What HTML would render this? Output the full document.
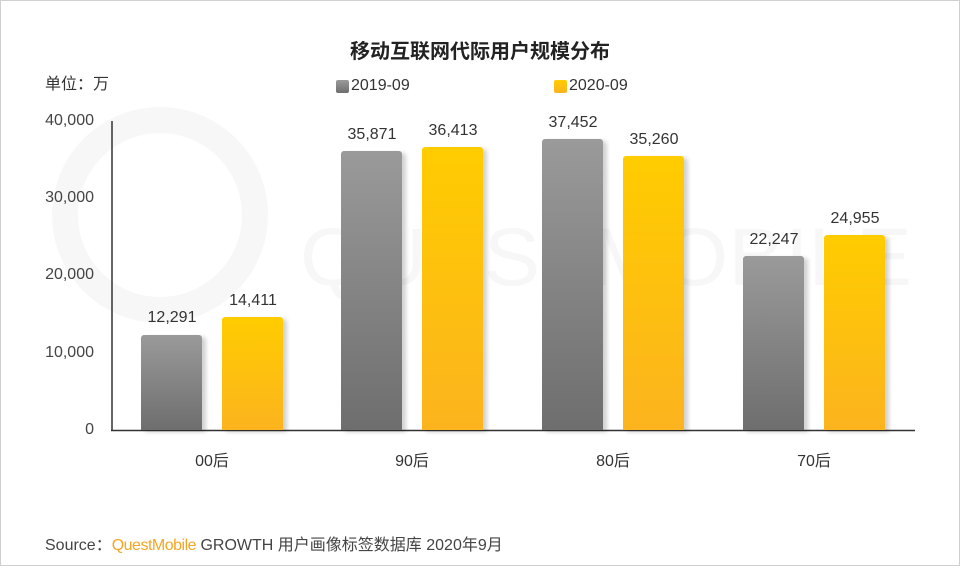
<!DOCTYPE html>
<html><head><meta charset="utf-8"><style>
html,body{margin:0;padding:0;background:#fff;}
body{width:960px;height:566px;overflow:hidden;position:relative;font-family:"Liberation Sans","Noto Sans CJK SC",sans-serif;}
.frame{position:absolute;left:0;top:0;width:958px;height:564px;border:1px solid #d0d0d0;}
.t{position:absolute;white-space:nowrap;color:#333;}
.g{background:linear-gradient(#9a9a9a,#6e6e6e);}
.y{background:linear-gradient(#ffcc00,#fcb41e);}
.bar{position:absolute;width:61px;border-radius:3px 3px 0 0;box-shadow:4px 2px 4px rgba(0,0,0,0.18);}
.v{position:absolute;width:90px;text-align:center;font-size:16px;color:#333;}
.yl{position:absolute;right:866px;font-size:16px;color:#444;text-align:right;}
</style></head><body>
<div class="frame"></div>
<svg style="position:absolute;left:0;top:0" width="960" height="566">
<circle cx="160" cy="215" r="95" fill="none" stroke="#f7f7f7" stroke-width="26"/>
<text x="300" y="285" font-family="Liberation Sans" font-size="82" fill="#f7f7f7" textLength="612" lengthAdjust="spacingAndGlyphs">QUESTMOBILE</text>
<line x1="112" y1="121" x2="112" y2="431" stroke="#333" stroke-width="1.5"/>
<line x1="111" y1="430.5" x2="915" y2="430.5" stroke="#333" stroke-width="1.5"/>
</svg>
<div class="t" style="left:0;width:960px;text-align:center;top:35px;font-size:20px;font-weight:bold;color:#222;">移动互联网代际用户规模分布</div>
<div class="t" style="left:45px;top:70px;font-size:16px;">单位：万</div>
<div style="position:absolute;left:336px;top:80px;width:13px;height:13px;border-radius:2px" class="g"></div>
<div class="t" style="left:351px;top:77px;font-size:16px;">2019-09</div>
<div style="position:absolute;left:554px;top:80px;width:13px;height:13px;border-radius:2px" class="y"></div>
<div class="t" style="left:569px;top:77px;font-size:16px;">2020-09</div>
<div class="yl" style="top:112px">40,000</div>
<div class="yl" style="top:189px">30,000</div>
<div class="yl" style="top:266px">20,000</div>
<div class="yl" style="top:344px">10,000</div>
<div class="yl" style="top:421px">0</div>

<div class="bar g" style="left:141px;top:335px;height:95px"></div>
<div class="bar y" style="left:222px;top:317px;height:113px"></div>
<div class="bar g" style="left:341px;top:151px;height:279px"></div>
<div class="bar y" style="left:422px;top:147px;height:283px"></div>
<div class="bar g" style="left:542px;top:139px;height:291px"></div>
<div class="bar y" style="left:623px;top:156px;height:274px"></div>
<div class="bar g" style="left:743px;top:256px;height:174px"></div>
<div class="bar y" style="left:824px;top:235px;height:195px"></div>

<div class="v" style="left:127px;top:309px">12,291</div>
<div class="v" style="left:208px;top:292px">14,411</div>
<div class="v" style="left:327px;top:126px">35,871</div>
<div class="v" style="left:408px;top:122px">36,413</div>
<div class="v" style="left:528px;top:114px">37,452</div>
<div class="v" style="left:609px;top:131px">35,260</div>
<div class="v" style="left:729px;top:231px">22,247</div>
<div class="v" style="left:810px;top:210px">24,955</div>

<div class="v" style="left:167px;top:447px">00后</div>
<div class="v" style="left:367px;top:447px">90后</div>
<div class="v" style="left:568px;top:447px">80后</div>
<div class="v" style="left:769px;top:447px">70后</div>

<div class="t" style="left:45px;top:531px;font-size:16px;color:#444;">Source：<span style="color:#f5a623;letter-spacing:-0.5px">QuestMobile</span> GROWTH 用户画像标签数据库 2020年9月</div>
</body></html>
